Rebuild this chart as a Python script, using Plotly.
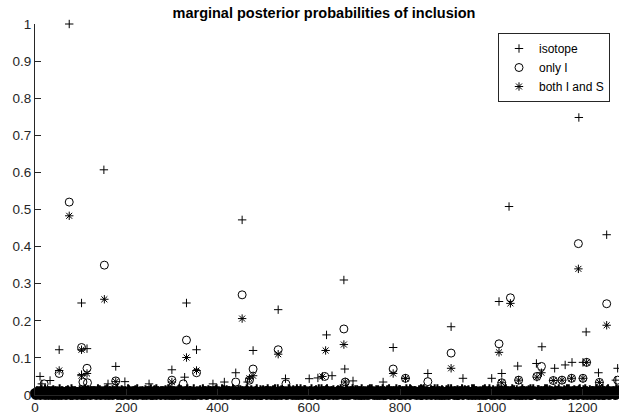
import plotly.graph_objects as go

# ---------------- data ----------------
title_text = "marginal posterior probabilities of inclusion"
series_names = ["isotope", "only I", "both I and S"]
x_ticks = [0, 200, 400, 600, 800, 1000, 1200]
y_ticks = [0, 0.1, 0.2, 0.3, 0.4, 0.5, 0.6, 0.7, 0.8, 0.9, 1]
y_tick_labels = ["0", "0.1", "0.2", "0.3", "0.4", "0.5", "0.6", "0.7", "0.8", "0.9", "1"]

# notable (clearly readable) points
iso_x = [75, 151, 102, 53, 114, 11, 102, 177, 197, 33, 332, 354, 300, 328, 454, 478, 440,
         533, 549, 601, 620, 639, 677, 679, 785, 861, 912, 938, 1001, 1017, 1023, 1039,
         1058, 1099, 1111, 1139, 1162, 1177, 1201, 1208, 1235, 1253, 1277, 1273, 651, 697,
         763, 812, 415, 390, 466, 250, 160, 15, 1192]
iso_y = [1.0, 0.607, 0.248, 0.122, 0.125, 0.05, 0.055, 0.077, 0.036, 0.039, 0.248, 0.122,
         0.068, 0.048, 0.472, 0.12, 0.06, 0.23, 0.044, 0.044, 0.046, 0.162, 0.31, 0.07,
         0.128, 0.058, 0.184, 0.045, 0.045, 0.252, 0.058, 0.508, 0.078, 0.085, 0.13, 0.072,
         0.081, 0.088, 0.088, 0.17, 0.06, 0.432, 0.072, 0.04, 0.052, 0.038, 0.035, 0.045,
         0.035, 0.03, 0.035, 0.03, 0.03, 0.03, 0.748]

onlyI_x = [75, 152, 102, 53, 114, 177, 332, 354, 300, 454, 478, 440, 533, 635, 677, 785,
           861, 912, 1017, 1042, 1110, 1100, 1060, 1023, 1191, 1209, 1201, 1136, 1155, 1176,
           1237, 1253, 1277, 812, 680, 470, 20, 115, 105, 325, 550]
onlyI_y = [0.52, 0.35, 0.128, 0.058, 0.072, 0.038, 0.148, 0.06, 0.04, 0.27, 0.07, 0.035,
           0.122, 0.05, 0.178, 0.07, 0.036, 0.113, 0.138, 0.262, 0.077, 0.05, 0.04, 0.033,
           0.408, 0.088, 0.045, 0.039, 0.04, 0.045, 0.034, 0.246, 0.04, 0.045, 0.035, 0.04,
           0.03, 0.033, 0.035, 0.03, 0.03]

both_x = [75, 152, 102, 53, 114, 102, 177, 332, 354, 454, 478, 533, 630, 637, 677, 785, 912,
          1017, 1042, 1110, 1100, 1060, 1023, 1191, 1209, 1201, 1136, 1155, 1176, 1237, 1253,
          812, 300, 470, 680]
both_y = [0.483, 0.258, 0.122, 0.066, 0.058, 0.052, 0.036, 0.101, 0.066, 0.206, 0.052, 0.11,
          0.05, 0.12, 0.136, 0.058, 0.072, 0.115, 0.247, 0.06, 0.048, 0.04, 0.033, 0.34,
          0.088, 0.045, 0.039, 0.04, 0.045, 0.034, 0.188, 0.045, 0.035, 0.045, 0.035]

# dense near-zero band, read as coarse levels every 2nd variable (level * 0.0025)
iso_band = (
    "31524036 14270352 41036251 30472153 20536142 73025140 36215047 12630524 "
    "41350726 03142657 20413605 31742036 52031476 24105362 70314252 06431527 "
    "13062745 30521406 42736150 24031675 60241357 13520474 25031642 71350264 "
    "34125067 41302756 02641532 57024136 26053142 75203614 31570426 13624057 "
    "40315627 02743165 53102476 24360517 15270436 63104527 41526307 30725146 "
    "72403516 24136057 05314762 43027516 36512074 51403627 27041365 60234715 "
    "04627153 32057416 64102537 15376240 53140627 06731524 42605371 27413065 "
    "21365704 74025136 13547026 50261347 67025413 20364751 35712064 02471536 "
    "42167305 15370642 60243175 34152607 05734216 63120457 27406153 41635072 "
    "31406527 57312046 04526731 26073514 64253017 20416375 51367240 13540726")
onlyI_band = (
    "20314102 31402130 14203102 42013021 13024130 20431203 31204012 04132042 "
    "42103214 01342031 20413024 13204130 01423102 34120413 02314201 23041320 "
    "30241042 12034120 43102304 10243012 24013204 30142031 01324102 32410234 "
    "12403142 04213024 34102413 20134021 03214301 42031402 21403120 04321403 "
    "41302140 13024301 32140213 41023104 20431023 34102140 02314302 13402041 "
    "14032410 21304213 43021034 02143120 32104203 10432041 21340120 34021403 "
    "03241302 42013420 10423104 21304132 41023140 03421032 32014230 14302401 "
    "20314023 14230410 04132041 32401320 13402130 42103402 21430213 04213041 "
    "34021403 20143120 13204302 41032140 02143210 31402041 40321043 12034213 "
    "41320134 02413204 23104132 30142031 10243041 34021302 02431024 21340132")
both_band = (
    "13204152 20413025 31052140 04231520 42105231 15230402 20341503 31502142 "
    "05132403 43021510 12503241 25041320 31450210 02314253 54102130 13250412 "
    "20513042 41025301 03241520 52130214 14025130 30512043 21430512 05241303 "
    "53120451 12403520 40215031 31052402 02341205 25130413 13502140 40213525 "
    "41502130 03241052 52031402 21350410 13024512 50213401 04152031 32410253 "
    "25103420 14052301 31240512 03521042 40215031 21340520 15023410 42150213 "
    "03512402 35021410 20451302 14203521 52130405 02413250 41305120 30251402 "
    "14023510 53104230 02315042 21540310 30451201 12035402 45120301 03214520 "
    "21304520 40251013 13420502 52013041 05213402 31450120 20531403 14032510 "
    "42105302 03241502 51203410 20451302 13520410 25013420 04321510 31402503")
band_step = 2
band_unit = 0.0025

def band_xy(s):
    digits = s.replace(" ", "")
    xs = [i * band_step for i in range(len(digits))]
    ys = [int(d) * band_unit for d in digits]
    return xs, ys

# ---------------- figure ----------------
INK = "#000000"
AX = "#262626"
FONT = "Liberation Sans, Arial, Helvetica, sans-serif"

W, H = 619, 419
L, R, T, B = 35, 0, 24, 24

fig = go.Figure()

specs = [
    (series_names[0], iso_band, iso_x, iso_y, "cross-thin-open", 6),
    (series_names[1], onlyI_band, onlyI_x, onlyI_y, "circle-open", 8),
    (series_names[2], both_band, both_x, both_y, "asterisk-open", 7),
]
# low-value bulk of every series (dense band along the baseline)
for name, band, ox, oy, sym, sz in specs:
    bx, by = band_xy(band)
    fig.add_trace(go.Scatter(
        x=bx, y=by, mode="markers", name=name, legendgroup=name, showlegend=False,
        cliponaxis=False, hoverinfo="skip",
        marker=dict(symbol=sym, size=sz, color=INK, line=dict(color=INK, width=2)),
    ))
# remaining values of every series
for name, band, ox, oy, sym, sz in specs:
    fig.add_trace(go.Scatter(
        x=ox, y=oy, mode="markers", name=name, legendgroup=name, cliponaxis=False,
        marker=dict(symbol=sym, size=sz, color=INK, line=dict(color=INK, width=1)),
    ))

fig.update_layout(
    width=W, height=H,
    margin=dict(l=L, r=R, t=T, b=B),
    paper_bgcolor="white", plot_bgcolor="white",
    font=dict(family=FONT, color=AX, size=13),
    title=dict(text=title_text, x=324 / W, xanchor="center", xref="container",
               y=1 - 12.7 / H, yanchor="middle", yref="container",
               font=dict(family=FONT, size=14.5, color=INK, weight="bold")),
    showlegend=True,
    legend=dict(x=(610 - L) / (W - L - R), xanchor="right", xref="paper",
                y=(H - B - 33) / (H - T - B), yanchor="top", yref="paper",
                bordercolor=AX, borderwidth=1, bgcolor="white",
                font=dict(family=FONT, size=12, color=INK),
                itemwidth=30, tracegroupgap=0),
)
fig.update_xaxes(range=[0, 1280], tickvals=x_ticks, ticktext=[str(v) for v in x_ticks],
                 showline=True, linecolor=AX, linewidth=1, ticks="inside", ticklen=6,
                 tickcolor=AX, showgrid=False, zeroline=False, mirror=False,
                 tickfont=dict(size=13.5, color=AX))
fig.update_yaxes(range=[0, 1], tickvals=y_ticks, ticktext=y_tick_labels,
                 showline=True, linecolor=AX, linewidth=1, ticks="inside", ticklen=6,
                 tickcolor=AX, showgrid=False, zeroline=False, mirror=False,
                 tickfont=dict(size=13.5, color=AX))

fig.write_html("out.html")
